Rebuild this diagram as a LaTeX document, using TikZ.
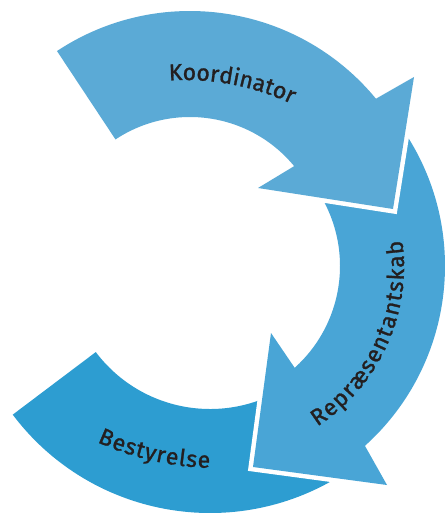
\documentclass[tikz,border=0pt]{standalone}
\usepackage{fontspec}
\setmainfont{Fira Sans}
\newfontfamily\lblfont[FakeBold=1.2]{Fira Sans}
\usetikzlibrary{calc,decorations.text}
\definecolor{kcol}{HTML}{5BAAD6}
\definecolor{rcol}{HTML}{49A5D6}
\definecolor{bcol}{HTML}{2D9DD1}
\definecolor{tcol}{HTML}{231F20}
\begin{document}
\begin{tikzpicture}[x=1pt,y=-1pt,
  arrowband/.style={fill=#1, preaction={draw=white, line width=9pt, line join=miter}},
  plainband/.style={fill=#1},
  lbl/.style 2 args={decorate, decoration={text along path, text align=center,
     text={|+\lblfont\fontsize{23}{23}\selectfont\color{tcol}\kern#1|#2}}}]
\useasboundingbox (0,0) rectangle (444,513);
% centres of the bands
\coordinate (C1) at (190,252);
\coordinate (C2) at (203,266);
\coordinate (C3) at (210,266);
% centres of the text arcs
\coordinate (T1) at (185,330);
\coordinate (T2) at (214,267);
\coordinate (T3) at (217,178);
% Bestyrelse band (bottom)
\path[plainband=bcol] ($(C3)+(143:247)$) arc[start angle=143, end angle=55, radius=247]
   -- ($(C3)+(55:143)$) arc[start angle=55, end angle=143, radius=143] -- cycle;
% Repraesentantskab arrow (right)
\path[arrowband=rcol] ($(C2)+(-36:242)$) arc[start angle=-36, end angle=48, radius=242]
   -- (387,485) -- (253,467) -- (271,333)
   -- ($(C2)+(48:137)$) arc[start angle=48, end angle=-36, radius=137] -- cycle;
% Koordinator arrow (top)
\path[arrowband=kcol] ($(C1)+(-123.5:241)$) arc[start angle=-123.5, end angle=-39.5, radius=241]
   -- (414,77) -- (393,209) -- (258,188)
   -- ($(C1)+(-39.5:135)$) arc[start angle=-39.5, end angle=-123.5, radius=135] -- cycle;
% labels
\path[lbl={0pt}{Koordinator}] ($(T1)+(-100:250)$) arc[start angle=-100, end angle=-58.4, radius=250];
\path[lbl={1.3pt}{Repræsentantskab}] ($(T2)+(66.7:190)$) arc[start angle=66.7, end angle=-17.3, radius=190];
\path[lbl={0.9pt}{Bestyrelse}] ($(T3)+(121:290)$) arc[start angle=121, end angle=85, radius=290];
\end{tikzpicture}
\end{document}
